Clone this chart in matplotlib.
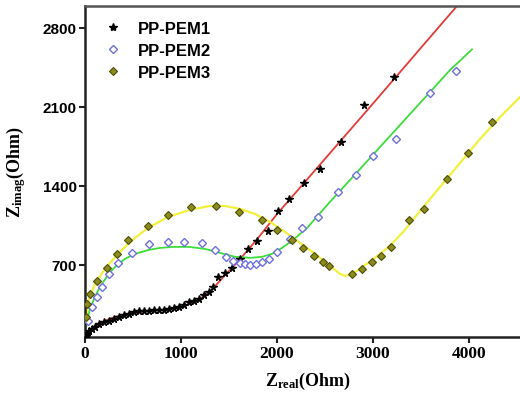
import matplotlib
matplotlib.use("Agg")
import matplotlib.pyplot as plt

plt.rcParams['mathtext.fontset'] = 'custom'
plt.rcParams['mathtext.rm'] = 'Liberation Serif:bold'
plt.rcParams['mathtext.it'] = 'Liberation Serif:bold'
plt.rcParams['mathtext.bf'] = 'Liberation Serif:bold'

# ---- data (Ohm) ----
pem1_x = [10, 21, 42, 73, 104, 146, 198, 250, 302, 354, 406, 458, 510, 563, 615, 667,
          719, 771, 823, 875, 927, 979, 1031, 1083, 1135, 1188, 1240, 1292, 1333, 1385,
          1458, 1531, 1615, 1698, 1792, 1906, 2010, 2125, 2281, 2448, 2667, 2906, 3219]
pem1_y = [71, 89, 115, 133, 151, 177, 195, 204, 221, 239, 257, 266, 283, 292, 292, 292,
          301, 301, 301, 310, 319, 328, 345, 372, 381, 399, 434, 461, 505, 593,
          629, 673, 753, 841, 912, 1001, 1178, 1284, 1426, 1550, 1789, 2117, 2365]

pem2_x = [31, 73, 125, 177, 250, 344, 490, 667, 865, 1031, 1219, 1354, 1469, 1542, 1615,
          1667, 1719, 1781, 1844, 1917, 2000, 2135, 2260, 2427, 2635, 2823, 3000, 3240,
          3594, 3865]
pem2_y = [204, 328, 416, 505, 620, 717, 806, 886, 903, 903, 895, 833, 770, 735, 717,
          709, 700, 709, 726, 753, 815, 930, 1027, 1125, 1346, 1497, 1665, 1816,
          2223, 2418]

pem3_x = [10, 21, 52, 125, 229, 333, 448, 656, 865, 1104, 1365, 1604, 1844, 2000, 2156,
          2271, 2385, 2479, 2542, 2781, 2885, 2990, 3083, 3188, 3375, 3531, 3771, 3990,
          4240]
pem3_y = [239, 354, 443, 558, 673, 797, 921, 1045, 1143, 1213, 1222, 1169, 1098, 1010, 921,
          850, 779, 726, 691, 620, 664, 726, 779, 859, 1098, 1196, 1461, 1692,
          1966]

# fitted curves
fit1_x = [0, 20, 60, 120, 200, 300, 450, 600, 800, 1000, 1150, 1300, 1450, 1600, 1800,
          2000, 2500, 3000, 3500, 3900]
fit1_y = [60, 95, 130, 165, 200, 235, 265, 285, 300, 325, 370, 460, 600, 735, 935,
          1150, 1640, 2130, 2625, 3020]

fit2_x = [0, 21, 52, 104, 156, 240, 313, 417, 521, 667, 781, 917, 1083, 1250, 1406,
          1563, 1719, 1844, 1948, 2052, 2167, 2313, 2552, 2865, 3177, 3490, 3802, 4031]
fit2_y = [62, 204, 310, 416, 505, 611, 682, 753, 797, 833, 850, 859, 859, 841, 806,
          771, 762, 771, 797, 850, 921, 1027, 1258, 1550, 1842, 2135, 2427, 2610]

fit3_x = [0, 10, 42, 104, 208, 333, 469, 656, 865, 1094, 1302, 1458, 1615, 1771, 1927,
          2083, 2240, 2396, 2552, 2656, 2708, 2760, 2865, 3021, 3177, 3333, 3490, 3698,
          3906, 4115, 4323, 4531]
fit3_y = [62, 221, 399, 531, 664, 788, 903, 1027, 1125, 1187, 1222, 1222, 1196, 1151, 1081,
          992, 895, 797, 691, 620, 602, 611, 664, 762, 868, 1010, 1178, 1390,
          1603, 1816, 2010, 2188]

labels = ['PP-PEM1', 'PP-PEM2', 'PP-PEM3']
xticks = [0, 1000, 2000, 3000, 4000]
yticks = [700, 1400, 2100, 2800]

fig = plt.figure(figsize=(5.2, 4.02), dpi=100)
ax = fig.add_axes([85/520, 1 - 338/402, 1 - 85/520, (338 - 7)/402])

lw = 1.3
ax.plot(fit1_x, fit1_y, color='#e43b36', lw=lw, zorder=2)
ax.plot(fit2_x, fit2_y, color='#3cdc3c', lw=lw, zorder=2)
ax.plot(fit3_x, fit3_y, color='#f2f03c', lw=lw + 0.3, zorder=2)

h1, = ax.plot(pem1_x, pem1_y, ls='none', marker='*', ms=5.5, color='black', zorder=3)
h2, = ax.plot(pem2_x, pem2_y, ls='none', marker='D', ms=3.8, mfc='white',
              mec='#6f6fdc', mew=1.0, zorder=3)
h3, = ax.plot(pem3_x, pem3_y, ls='none', marker='D', ms=3.8, mfc='#8c8c1e',
              mec='#4e4e06', mew=0.8, zorder=3)

ax.set_xlim(0, 4531)
ax.set_ylim(60, 2995)
ax.set_xticks(xticks)
ax.set_yticks(yticks)
ax.set_xticklabels([str(v) for v in xticks], fontfamily='Liberation Serif',
                   fontweight='bold', fontsize=12.5)
ax.set_yticklabels([str(v) for v in yticks], fontfamily='Liberation Sans',
                   fontweight='bold', fontsize=11)
ax.tick_params(axis='both', direction='out', length=4, width=1.5, color='#222222', pad=2)

for s in ['left', 'bottom', 'top']:
    ax.spines[s].set_linewidth(1.8)
    ax.spines[s].set_color('#222222')
ax.spines['top'].set_color('#555555')
ax.spines['right'].set_visible(False)

ax.set_xlabel(r'$Z_{real}$(Ohm)', fontfamily='Liberation Serif', fontweight='bold',
              fontsize=13)
ax.set_ylabel(r'$Z_{imag}$(Ohm)', fontfamily='Liberation Serif', fontweight='bold',
              fontsize=13)
ax.xaxis.set_label_coords(0.513, -0.10)
ax.yaxis.set_label_coords(-0.132, 0.5)

leg = ax.legend([h1, h2, h3], labels, loc='upper left', bbox_to_anchor=(0.01, 0.995),
                frameon=False, prop={'family': 'Liberation Sans', 'weight': 'bold', 'size': 12},
                handlelength=1.2, handletextpad=0.9, labelspacing=0.42,
                borderaxespad=0.4, markerscale=1.1)

fig.savefig('out.png', dpi=100)
